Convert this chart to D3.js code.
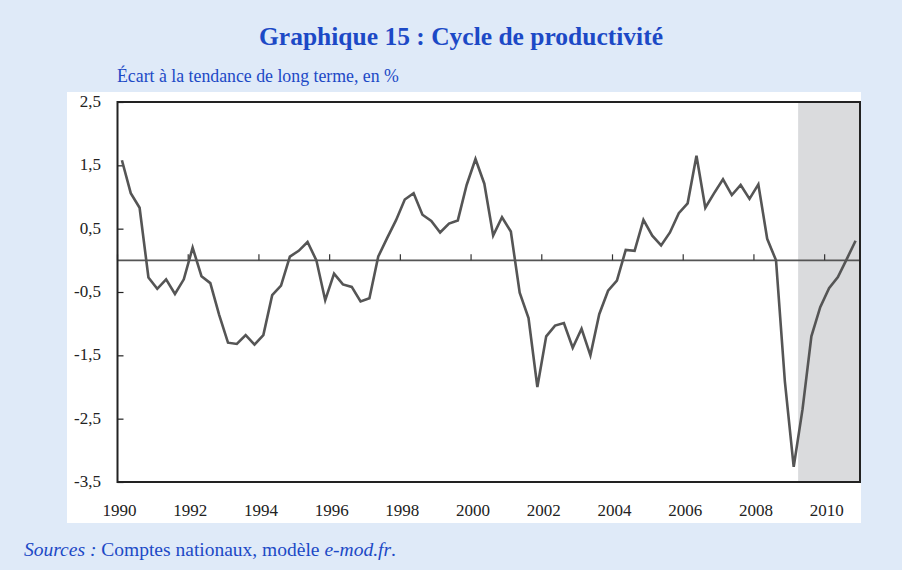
<!DOCTYPE html>
<html>
<head>
<meta charset="utf-8">
<script src="https://cdn.jsdelivr.net/npm/d3@7"></script>
<style>
  body { margin: 0; background: #dfeaf8; }
  svg { display: block; font-family: "Liberation Serif", "DejaVu Serif", serif; }
</style>
</head>
<body>
<div class="chart"></div>
<script>
const width = 902;
const height = 570;
const margin = {top: 102, right: 42, bottom: 88, left: 117.5}; // plot box inside the white panel

// quarterly values 1990T1 .. 2010T4, deviation from long term trend (%)
const startYear = 1990;
const productivityGap = [
  1.58, 1.06, 0.83, -0.27, -0.45, -0.30, -0.53, -0.30,
  0.20, -0.25, -0.36, -0.86, -1.30, -1.32, -1.18, -1.33,
  -1.18, -0.55, -0.40, 0.06, 0.15, 0.29, 0.00, -0.63,
  -0.21, -0.38, -0.42, -0.65, -0.60, 0.06, 0.35, 0.63,
  0.96, 1.06, 0.72, 0.62, 0.44, 0.58, 0.63, 1.19,
  1.60, 1.21, 0.39, 0.68, 0.455, -0.51, -0.91, -2.00,
  -1.20, -1.03, -0.99, -1.38, -1.08, -1.50, -0.85, -0.48,
  -0.32, 0.165, 0.15, 0.64, 0.39, 0.235, 0.44, 0.745,
  0.90, 1.65, 0.83, 1.06, 1.28, 1.03, 1.19, 0.97,
  1.20, 0.34, 0.00, -1.91, -3.26, -2.35, -1.20, -0.74,
  -0.44, -0.265, 0.02, 0.31
];
const yearTicks = [1990, 1992, 1994, 1996, 1998, 2000, 2002, 2004, 2006, 2008, 2010];
const valueTicks = [2.5, 1.5, 0.5, -0.5, -1.5, -2.5, -3.5];
const forecastStart = 2009.25; // shaded zone (projection)
const xDomain = [1990, 2011];
const yDomain = [-3.5, 2.5];

const blue = '#1c49c6';
const lineColor = '#555555';
// french decimal comma, plain hyphen for the minus sign
const frFormat = d => d3.format('.1f')(d).replace('.', ',').replace('\u2212', '-');

const svg = d3.select('.chart').append('svg')
  .attr('width', width)
  .attr('height', height);

// white panel
svg.append('rect')
  .attr('x', 67).attr('y', 92)
  .attr('width', 794).attr('height', 431)
  .attr('fill', '#ffffff');

const x = d3.scaleLinear().domain(xDomain).range([margin.left, width - margin.right]);
const y = d3.scaleLinear().domain(yDomain).range([height - margin.bottom, margin.top]);

const data = productivityGap.map((v, i) => ({t: startYear + (i + 0.5) / 4, v: v}));

// shaded projection area
svg.append('rect')
  .attr('x', x(forecastStart))
  .attr('y', y(yDomain[1]))
  .attr('width', x(xDomain[1]) - x(forecastStart))
  .attr('height', y(yDomain[0]) - y(yDomain[1]))
  .attr('fill', '#dadbdd');

// zero line with year ticks pointing up
svg.append('line')
  .attr('x1', x(xDomain[0])).attr('x2', x(xDomain[1]))
  .attr('y1', y(0)).attr('y2', y(0))
  .attr('stroke', lineColor).attr('stroke-width', 1.6);

svg.append('g').selectAll('line')
  .data(yearTicks)
  .join('line')
    .attr('x1', d => x(d)).attr('x2', d => x(d))
    .attr('y1', y(0)).attr('y2', y(0) - 6)
    .attr('stroke', '#333').attr('stroke-width', 1.2);

// y axis, ticks inward
const yAxis = d3.axisRight(y).tickValues(valueTicks).tickSize(6).tickFormat('');
svg.append('g')
  .attr('transform', `translate(${margin.left},0)`)
  .call(yAxis)
  .call(g => g.select('.domain').remove())
  .call(g => g.selectAll('line').attr('stroke', '#222').attr('stroke-width', 1.2));

svg.append('g').selectAll('text')
  .data(valueTicks)
  .join('text')
    .attr('x', 101)
    .attr('y', d => y(d) + 5)
    .attr('text-anchor', 'end')
    .attr('font-size', 17)
    .attr('fill', '#222')
    .text(d => frFormat(d));

// x labels
svg.append('g').selectAll('text')
  .data(yearTicks)
  .join('text')
    .attr('x', d => x(d) + 2)
    .attr('y', 516)
    .attr('text-anchor', 'middle')
    .attr('font-size', 17)
    .attr('fill', '#222')
    .text(d => d);

// the series
const line = d3.line().x(d => x(d.t)).y(d => y(d.v));
svg.append('path')
  .datum(data)
  .attr('d', line)
  .attr('fill', 'none')
  .attr('stroke', lineColor)
  .attr('stroke-width', 2.6)
  .attr('stroke-linejoin', 'miter');

// frame
svg.append('rect')
  .attr('x', x(xDomain[0])).attr('y', y(yDomain[1]))
  .attr('width', x(xDomain[1]) - x(xDomain[0]))
  .attr('height', y(yDomain[0]) - y(yDomain[1]))
  .attr('fill', 'none')
  .attr('stroke', '#222')
  .attr('stroke-width', 2);

// titles
svg.append('text')
  .attr('x', 461).attr('y', 45)
  .attr('text-anchor', 'middle')
  .attr('font-size', 25.5)
  .attr('font-weight', 'bold')
  .attr('fill', blue)
  .text('Graphique 15 : Cycle de productivité');

svg.append('text')
  .attr('x', 117).attr('y', 82)
  .attr('font-size', 17.8)
  .attr('fill', blue)
  .text('Écart à la tendance de long terme, en %');

const src = svg.append('text')
  .attr('x', 24).attr('y', 556)
  .attr('font-size', 19.5)
  .attr('fill', blue);
src.append('tspan').attr('font-style', 'italic').text('Sources :');
src.append('tspan').text(' Comptes nationaux, modèle ');
src.append('tspan').attr('font-style', 'italic').text('e-mod.fr');
src.append('tspan').text('.');
</script>
</body>
</html>
